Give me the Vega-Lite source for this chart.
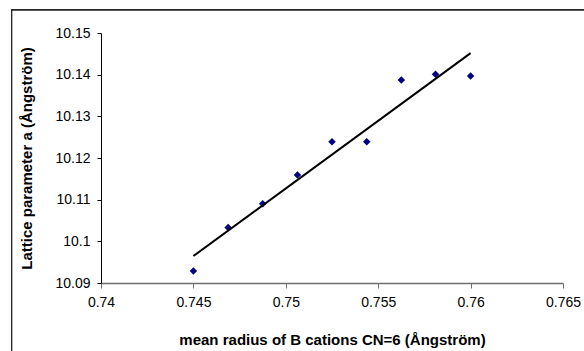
{
  "$schema": "https://vega.github.io/schema/vega-lite/v6.json",
  "width": 462,
  "height": 250,
  "autosize": {"type": "none"},
  "padding": {"left": 101, "top": 33, "right": 21, "bottom": 68},
  "background": "white",
  "config": {"view": {"stroke": null}, "font": "Liberation Sans"},
  "data": {
    "values": [
      {"r": 0.745, "a": 10.0929},
      {"r": 0.74688, "a": 10.1033},
      {"r": 0.74875, "a": 10.109},
      {"r": 0.75063, "a": 10.1159},
      {"r": 0.7525, "a": 10.1239},
      {"r": 0.75438, "a": 10.1239},
      {"r": 0.75625, "a": 10.1387},
      {"r": 0.7581, "a": 10.1401},
      {"r": 0.76, "a": 10.1397}
    ]
  },
  "layer": [
    {
      "mark": {"type": "point", "shape": "diamond", "filled": true, "color": "#000080", "size": 56, "opacity": 1},
      "encoding": {
        "x": {
          "field": "r", "type": "quantitative",
          "scale": {"domain": [0.74, 0.765], "nice": false, "zero": false},
          "axis": {
            "values": [0.74, 0.745, 0.75, 0.755, 0.76, 0.765],
            "format": "~g", "grid": false, "labelFlush": false, "labelOverlap": false,
            "domainColor": "#6e6e6e", "domainWidth": 1.5, "tickColor": "#6e6e6e", "tickSize": 5, "tickWidth": 1,
            "labelPadding": 7, "labelFontSize": 14, "labelColor": "black", "labelFont": "Liberation Sans",
            "title": "mean radius of B cations CN=6 (Ångström)", "titleFontSize": 15, "titleFontWeight": "bold",
            "titleColor": "black", "titleFont": "Liberation Sans", "titlePadding": 23
          }
        },
        "y": {
          "field": "a", "type": "quantitative",
          "scale": {"domain": [10.09, 10.15], "nice": false, "zero": false},
          "axis": {
            "values": [10.09, 10.1, 10.11, 10.12, 10.13, 10.14, 10.15],
            "format": "~g", "grid": false, "labelFlush": false, "labelOverlap": false,
            "domainColor": "black", "domainWidth": 1, "tickColor": "black", "tickSize": 4,
            "labelPadding": 7, "labelFontSize": 14, "labelColor": "black", "labelFont": "Liberation Sans",
            "title": "Lattice parameter a (Ångström)", "titleFontSize": 15, "titleFontWeight": "bold",
            "titleColor": "black", "titleFont": "Liberation Sans", "titlePadding": 20
          }
        }
      }
    },
    {
      "transform": [{"regression": "a", "on": "r", "extent": [0.745, 0.76]}],
      "mark": {"type": "line", "color": "black", "strokeWidth": 2},
      "encoding": {
        "x": {"field": "r", "type": "quantitative"},
        "y": {"field": "a", "type": "quantitative"}
      }
    },
    {
      "mark": {"type": "rect", "fill": "transparent", "stroke": "#2a2a2a", "strokeWidth": 1, "clip": false},
      "encoding": {
        "x": {"datum": 0.73516, "type": "quantitative"},
        "x2": {"datum": 0.78},
        "y": {"datum": 10.1556, "type": "quantitative"},
        "y2": {"datum": 10.05}
      }
    }
  ]
}
